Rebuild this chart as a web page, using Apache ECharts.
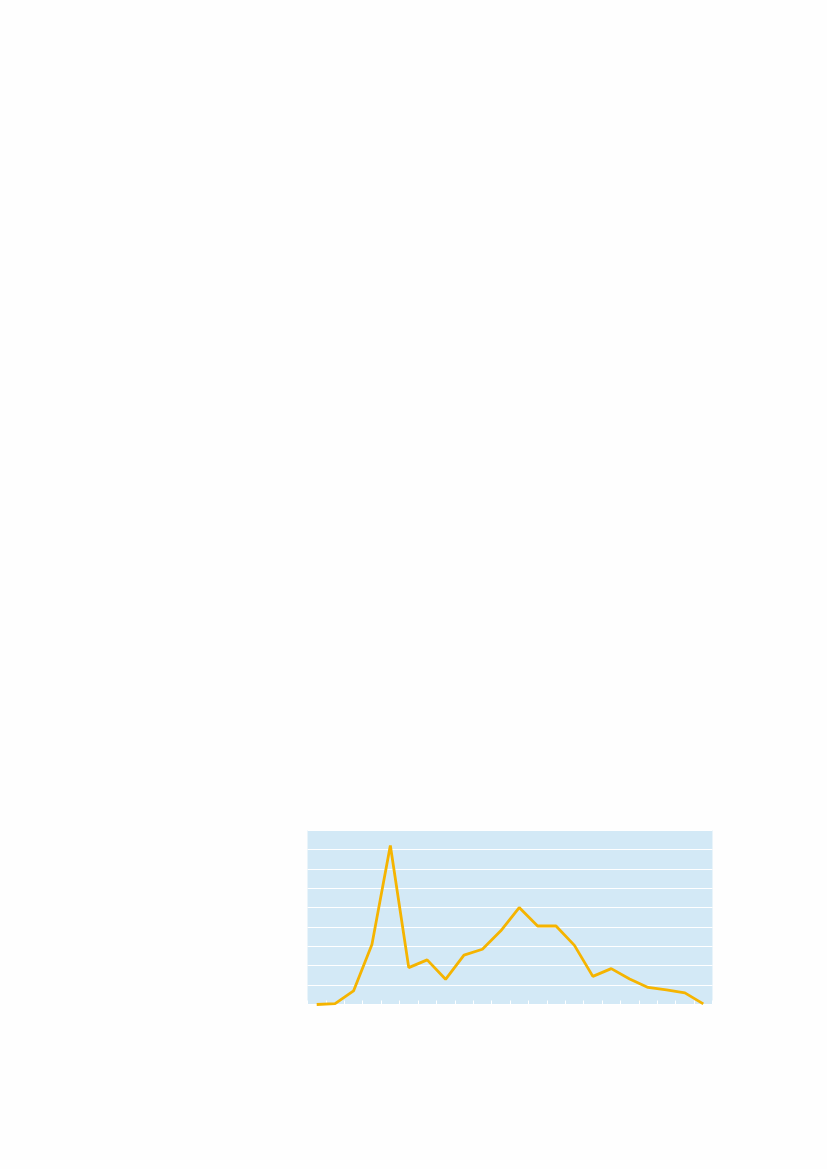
<!DOCTYPE html>
<html><head><meta charset="utf-8">
<script src="https://cdn.jsdelivr.net/npm/echarts@6/dist/echarts.min.js"></script>
<style>html,body{margin:0;padding:0;background:#fefefe;}#c{width:827px;height:1169px;}</style>
</head><body><div id="c"></div>
<script>
const categories = ['1','2','3','4','5','6','7','8','9','10','11','12','13','14','15','16','17','18','19','20','21','22'];
const values = [0, 0.05, 0.7, 3.1, 8.2, 1.9, 2.3, 1.3, 2.55, 2.85, 3.8, 5.0, 4.05, 4.05, 3.05, 1.45, 1.85, 1.32, 0.88, 0.75, 0.6, 0.03];
const chart = echarts.init(document.getElementById('c'));
chart.setOption({
  animation: false,
  grid: { left: 307.5, top: 830, width: 405, height: 174.5, backgroundColor: '#d3e9f6', show: true, borderWidth: 0 },
  xAxis: {
    type: 'category', data: categories, boundaryGap: true,
    axisLine: { show: false },
    axisTick: { show: true, inside: true, length: 4, lineStyle: { color: '#ffffff', width: 1 } },
    axisLabel: { show: false },
    splitLine: { show: false }
  },
  yAxis: {
    type: 'value', min: 0, max: 9, interval: 1,
    axisLine: { show: false }, axisTick: { show: false }, axisLabel: { show: false },
    splitLine: { show: true, lineStyle: { color: '#ffffff', width: 1 } }
  },
  series: [{
    type: 'line', data: values, symbol: 'none',
    lineStyle: { color: '#f5b400', width: 2.8 },
    itemStyle: { color: '#f5b400' }
  }]
});
</script></body></html>
